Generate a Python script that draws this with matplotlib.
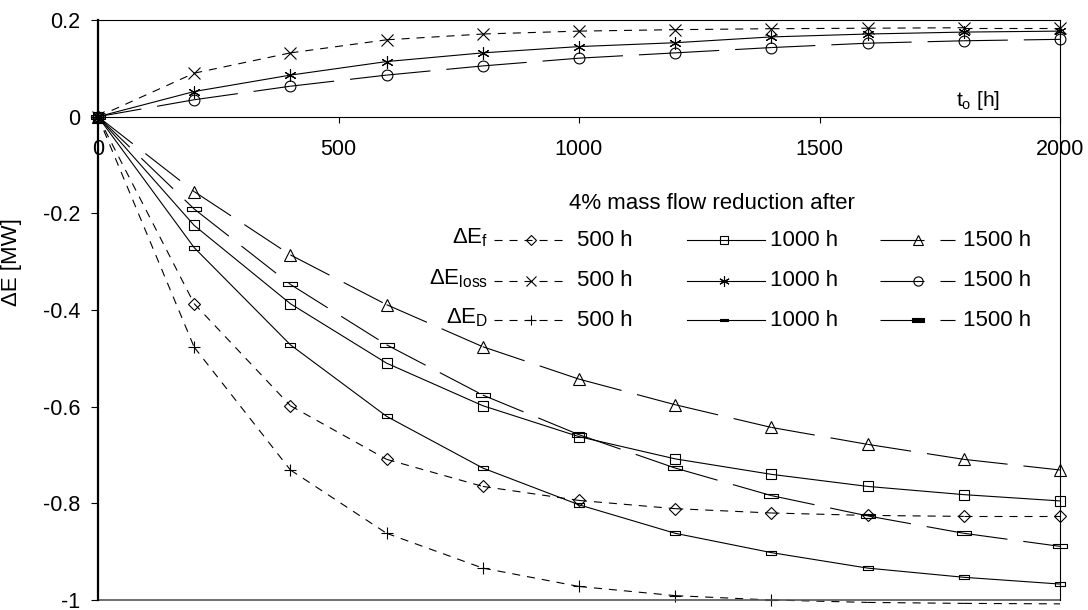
import matplotlib
matplotlib.use("Agg")
import matplotlib.pyplot as plt
from matplotlib.lines import Line2D

plt.rcParams['font.family'] = ['Liberation Sans', 'DejaVu Sans']
plt.rcParams['mathtext.default'] = 'regular'
plt.rcParams['axes.unicode_minus'] = False
plt.rcParams['lines.scale_dashes'] = False

# operating time [h]
t = [0, 200, 400, 600, 800, 1000, 1200, 1400, 1600, 1800, 2000]

# change of exergy [MW] for a 4% mass flow reduction after 500 / 1000 / 1500 h
ef_500 = [0, -0.387, -0.598, -0.709, -0.765, -0.794, -0.811, -0.820, -0.825, -0.827, -0.827]
ef_1000 = [0, -0.225, -0.387, -0.510, -0.598, -0.662, -0.708, -0.740, -0.765, -0.782, -0.795]
ef_1500 = [0, -0.155, -0.286, -0.389, -0.476, -0.543, -0.596, -0.643, -0.678, -0.709, -0.731]

eloss_500 = [0, 0.090, 0.132, 0.159, 0.171, 0.177, 0.180, 0.182, 0.183, 0.184, 0.184]
eloss_1000 = [0, 0.052, 0.086, 0.114, 0.132, 0.145, 0.153, 0.165, 0.171, 0.175, 0.177]
eloss_1500 = [0, 0.035, 0.063, 0.086, 0.105, 0.121, 0.132, 0.143, 0.152, 0.157, 0.160]

ed_500 = [0, -0.477, -0.731, -0.862, -0.934, -0.972, -0.991, -1.000, -1.005, -1.007, -1.008]
ed_1000 = [0, -0.271, -0.472, -0.620, -0.727, -0.803, -0.862, -0.902, -0.934, -0.953, -0.967]
ed_1500 = [0, -0.191, -0.347, -0.472, -0.576, -0.658, -0.727, -0.784, -0.826, -0.862, -0.889]

row_labels = ['ΔE$_{f}$', 'ΔE$_{loss}$', 'ΔE$_{D}$']
col_labels = ['500 h', '1000 h', '1500 h']

SHORT = (5.8, 5.0)
LONG = (31.7, 11.5)
rect_small = [(-1, -0.37), (1, -0.37), (1, 0.37), (-1, 0.37), (-1, -0.37)]
rect_wide = [(-1, -0.26), (1, -0.26), (1, 0.26), (-1, 0.26), (-1, -0.26)]

# (values, dash pattern, marker, marker size)
series = [
    (ef_500, SHORT, 'D', 6.1),
    (ef_1000, None, 's', 6.8),
    (ef_1500, LONG, '^', 8.6),
    (eloss_500, SHORT, 'x', 9.2),
    (eloss_1000, None, (6, 2, 0), 8.8),
    (eloss_1500, LONG, 'o', 7.8),
    (ed_500, SHORT, '+', 9.1),
    (ed_1000, None, rect_small, 6.5),
    (ed_1500, LONG, rect_wide, 10.4),
]

fig = plt.figure(figsize=(10.88, 6.10), dpi=100)
ax = fig.add_axes([98 / 1088, 10 / 610, 962 / 1088, 580 / 610])
ax.set_xlim(0, 2000)
ax.set_ylim(-1, 0.2)

for y, dash, mk, ms in series:
    if dash is None:
        ax.plot(t, y, color='k', lw=0.8, clip_on=False)
    else:
        # dash pattern restarts on every segment
        for i in range(len(t) - 1):
            ax.plot(t[i:i + 2], y[i:i + 2], color='k', lw=0.8,
                    dashes=dash, clip_on=False)
    keep = [i for i, v in enumerate(y) if v >= -1]
    ax.plot([t[i] for i in keep], [y[i] for i in keep], ls='none',
            marker=mk, ms=ms, mfc='none', mec='k', mew=0.8, clip_on=False)

# frame
ax.spines['bottom'].set_position(('data', 0))
for s in ['top', 'right', 'bottom']:
    ax.spines[s].set_linewidth(0.8)
ax.spines['left'].set_linewidth(1.6)
ax.axhline(-1, color='#555555', lw=1.2, clip_on=False)

ax.set_xticks([0, 500, 1000, 1500, 2000])
ax.set_xticklabels(['0', '500', '1000', '1500', '2000'])
yt = [-1, -0.8, -0.6, -0.4, -0.2, 0, 0.2]
ax.set_yticks(yt)
ax.set_yticklabels(['-1', '-0.8', '-0.6', '-0.4', '-0.2', '0', '0.2'])
ax.tick_params(axis='x', direction='out', length=4.3, width=0.8, pad=12, labelsize=15.5)
ax.tick_params(axis='y', direction='out', length=5, width=0.8, pad=8, labelsize=15.5)

ax.set_ylabel('ΔE [MW]', fontsize=16)
ax.yaxis.set_label_coords(-0.079, 0.583)


def fx(px):
    return px / 1088


def fy(py):
    return 1 - py / 610


fig.text(fx(1000), fy(101), 't$_{o}$ [h]', fontsize=15, ha='right', va='center')

# legend drawn as a 3 x 3 grid
fig.text(fx(712), fy(203), '4% mass flow reduction after', fontsize=16,
         ha='center', va='center')
rows_y = [240, 281, 320]
cols = [(494, 567, 531, 577), (687, 765, 724, 770), (880, 955, 918, 963)]
for r, ry in enumerate(rows_y):
    fig.text(fx(488), fy(ry - 2), row_labels[r], fontsize=16, ha='right',
             va='center')
    for c, (x0, x1, xm, xt) in enumerate(cols):
        y, dash, mk, ms = series[r * 3 + c]
        kw = dict(color='k', lw=0.8, transform=fig.transFigure)
        if dash is not None:
            kw['dashes'] = dash
        fig.add_artist(Line2D([fx(x0), fx(x1)], [fy(ry), fy(ry)], **kw))
        fill = 'k' if r == 2 else 'none'
        fig.add_artist(Line2D([fx(xm)], [fy(ry)], ls='none', marker=mk,
                              ms=ms * 0.85, mfc=fill, mec='k', mew=0.8,
                              transform=fig.transFigure))
        fig.text(fx(xt), fy(ry), col_labels[c], fontsize=16, ha='left',
                 va='center')

fig.savefig('out.png', dpi=100)
